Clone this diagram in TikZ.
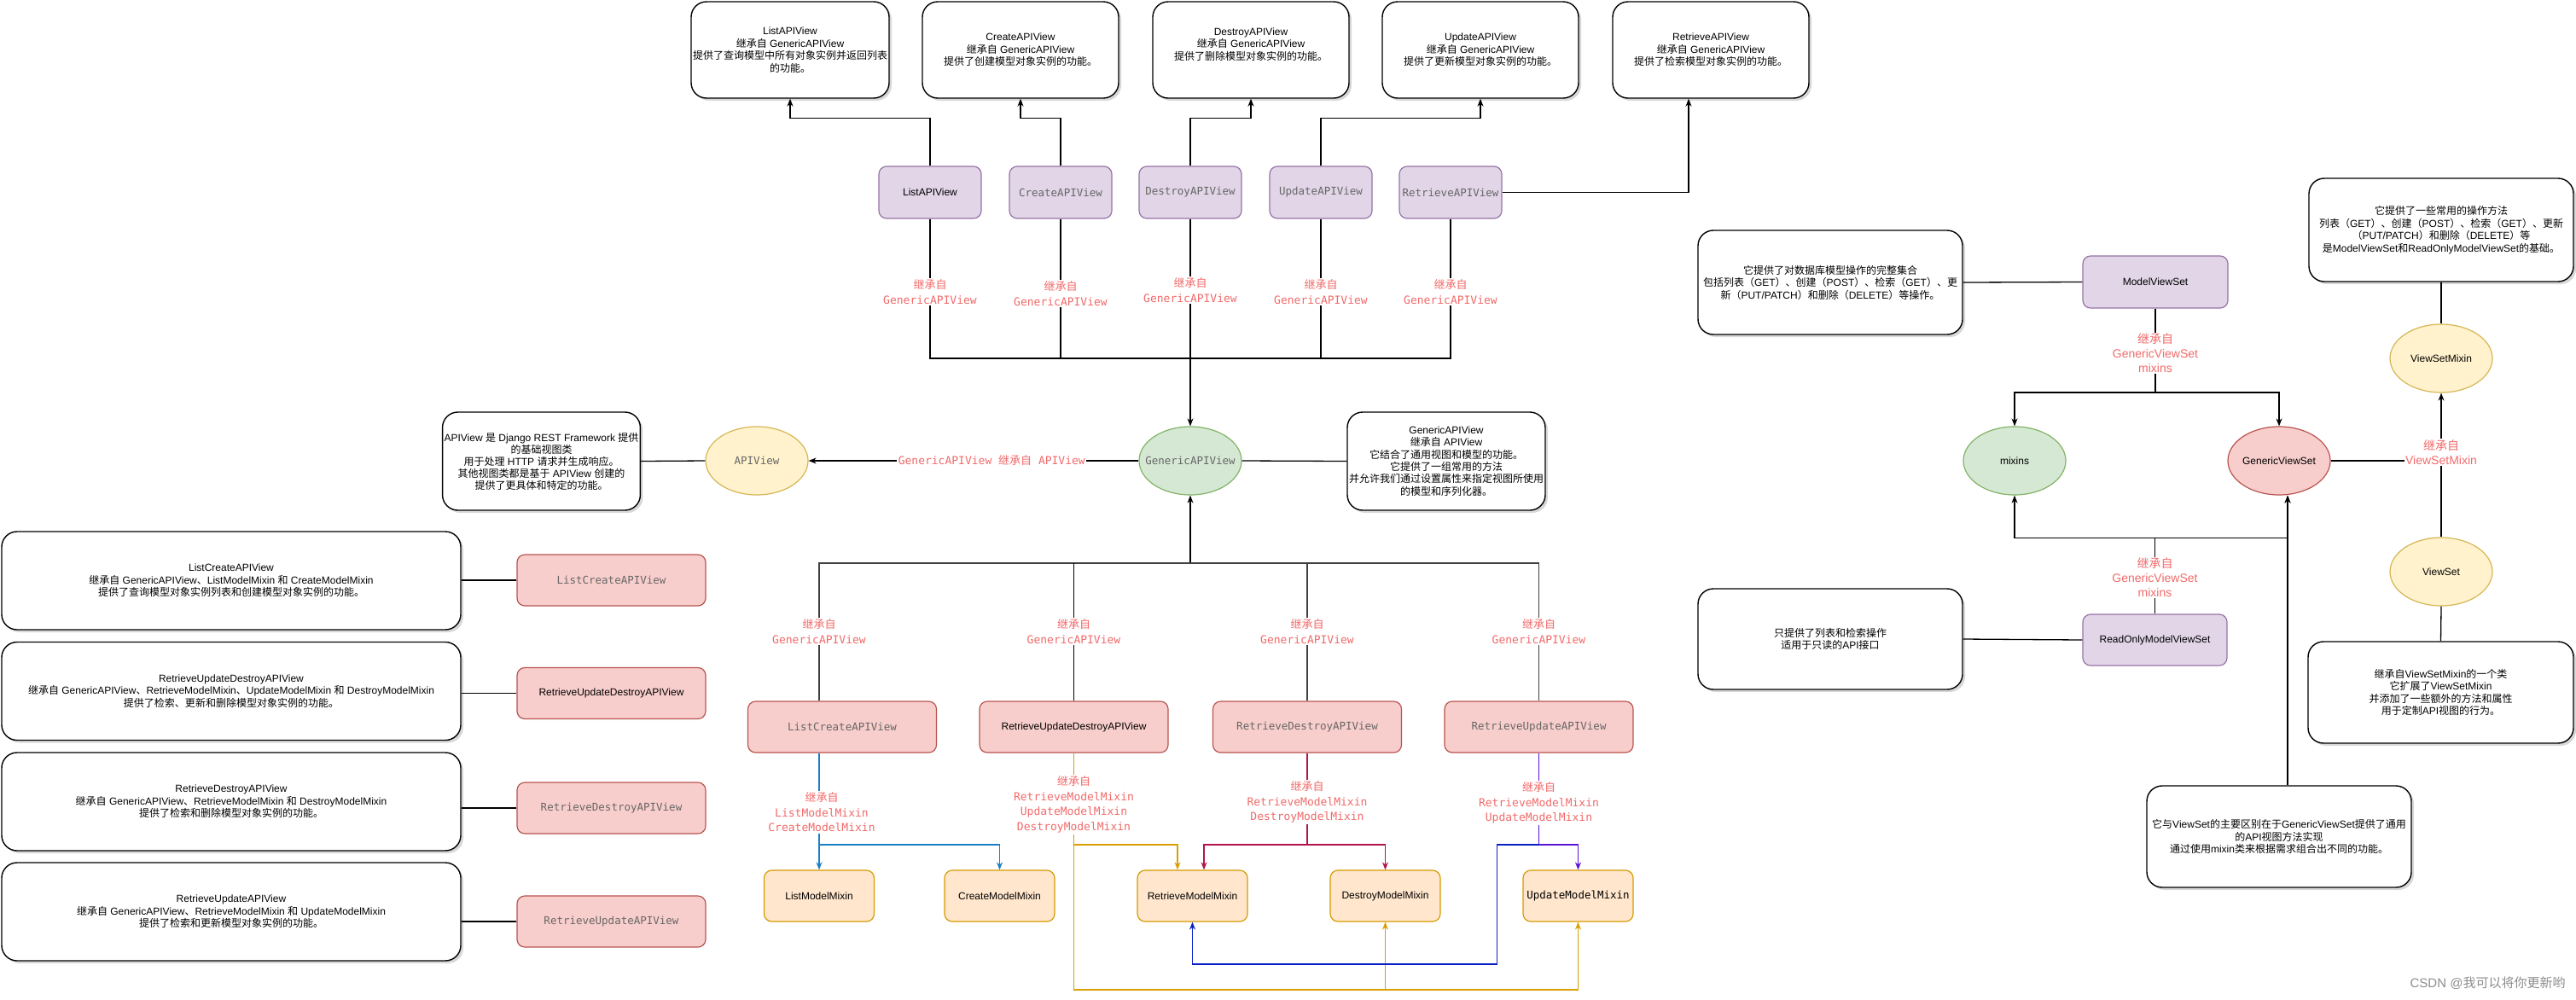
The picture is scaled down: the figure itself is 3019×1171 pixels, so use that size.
\documentclass[tikz,border=0pt]{standalone}
\usepackage{fontspec}
\setmainfont{Liberation Sans}
\setmonofont{DejaVu Sans Mono}
\newfontfamily\cjkfont{Noto Sans CJK SC}
\usetikzlibrary{arrows.meta,shadows,shapes.geometric}
% automatic CJK font switching
\newcount\cjkc
\def\setcjkrange#1#2{\cjkc=#1\relax\loop\XeTeXcharclass\cjkc=7\relax\ifnum\cjkc<#2\relax\advance\cjkc by 1\relax\repeat}
\setcjkrange{"4E00}{"9FFF}
\setcjkrange{"3000}{"303F}
\setcjkrange{"FF00}{"FFEF}
\XeTeXinterchartoks 0 7 = {\begingroup\cjkfont}
\XeTeXinterchartoks 4095 7 = {\begingroup\cjkfont}
\XeTeXinterchartoks 7 0 = {\endgroup}
\XeTeXinterchartoks 7 4095 = {\endgroup}
\XeTeXinterchartokenstate=1
\definecolor{purpF}{HTML}{E1D5E7}\definecolor{purpS}{HTML}{9673A6}
\definecolor{redF}{HTML}{F8CECC}\definecolor{redS}{HTML}{B85450}
\definecolor{grnF}{HTML}{D5E8D4}\definecolor{grnS}{HTML}{82B366}
\definecolor{ylwF}{HTML}{FFF2CC}\definecolor{ylwS}{HTML}{D6B656}
\definecolor{orgF}{HTML}{FFE6CC}\definecolor{orgS}{HTML}{D79B00}
\definecolor{lbl}{HTML}{F26A6A}
\definecolor{monoG}{HTML}{666666}
\definecolor{cBlue}{HTML}{1B7FC4}
\definecolor{cOrange}{HTML}{D9A000}
\definecolor{cCrimson}{HTML}{B3134F}
\definecolor{cPurple}{HTML}{5B14D6}
\definecolor{cNavy}{HTML}{0A1FC4}
\tikzset{
 desc/.style={draw=black, line width=1.4pt, rounded corners=18pt, fill=white, align=center, inner sep=2pt, drop shadow={shadow xshift=3pt,shadow yshift=-3pt,fill=black!30}, font=\fontsize{12pt}{14.5pt}\selectfont},
 nbox/.style={rounded corners=9pt, line width=1.2pt, align=center, inner sep=2pt, font=\fontsize{12pt}{14.5pt}\selectfont},
 purpbox/.style={nbox, draw=purpS, fill=purpF, minimum width=120pt, minimum height=61pt},
 redbox/.style={nbox, draw=redS, fill=redF, minimum width=221pt, minimum height=60pt},
 mixbox/.style={nbox, draw=orgS, fill=orgF, minimum width=129pt, minimum height=60pt},
 ell/.style={ellipse, line width=1.2pt, minimum width=120pt, minimum height=80pt, inner sep=0pt, font=\fontsize{12pt}{14.5pt}\selectfont},
 grnell/.style={ell, draw=grnS, fill=grnF},
 ylwell/.style={ell, draw=ylwS, fill=ylwF},
 redell/.style={ell, draw=redS, fill=redF},
 mono/.style={font=\fontsize{12.5pt}{14.5pt}\selectfont\ttfamily, text=monoG},
 lblm/.style={fill=white, text=lbl, font=\fontsize{13pt}{17.5pt}\selectfont\ttfamily, align=center, inner sep=1.5pt},
 lbls/.style={fill=white, text=lbl, font=\fontsize{14pt}{17pt}\selectfont, align=center, inner sep=1.5pt},
 conn/.style={line width=1.3pt},
 arr/.style={conn, -{Stealth[length=9pt,width=7pt]}},
}
\begin{document}
\begin{tikzpicture}[x=1pt,y=-1pt]
\fill[white] (0,0) rectangle (3019,1171);
\useasboundingbox (0,0) rectangle (3019,1171);

% ---------- top description boxes ----------
\node[desc, minimum width=230pt, minimum height=113pt] (tListD) at (926,58.5) {ListAPIView\\继承自 GenericAPIView\\提供了查询模型中所有对象实例并返回列表\\的功能。};
\node[desc, minimum width=230pt, minimum height=113pt] (tCreateD) at (1196,58.5) {CreateAPIView\\继承自 GenericAPIView\\提供了创建模型对象实例的功能。};
\node[desc, minimum width=230pt, minimum height=113pt] (tDestroyD) at (1466,58.5) {DestroyAPIView\\继承自 GenericAPIView\\提供了删除模型对象实例的功能。\\\mbox{}};
\node[desc, minimum width=230pt, minimum height=113pt] (tUpdateD) at (1735,58.5) {UpdateAPIView\\继承自 GenericAPIView\\提供了更新模型对象实例的功能。};
\node[desc, minimum width=230pt, minimum height=113pt] (tRetrD) at (2005,58.5) {RetrieveAPIView\\继承自 GenericAPIView\\提供了检索模型对象实例的功能。};

% ---------- purple API views ----------
\node[purpbox] (pList) at (1090,225.5) {ListAPIView};
\node[purpbox, mono] (pCreate) at (1243,225.5) {CreateAPIView};
\node[purpbox, mono] (pDestroy) at (1395,225.5) {DestroyAPIView};
\node[purpbox, mono] (pUpdate) at (1548,225.5) {UpdateAPIView};
\node[purpbox, mono] (pRetr) at (1700,225.5) {RetrieveAPIView};

\draw[arr] (pList.north) -- ++(0,-56) -| (tListD.south);
\draw[arr] (pCreate.north) -- ++(0,-56) -| (tCreateD.south);
\draw[arr] (pDestroy.north) -- ++(0,-56) -| (tDestroyD.south);
\draw[arr] (pUpdate.north) -- ++(0,-56) -| (tUpdateD.south);
\draw[arr] (pRetr.east) -| ([xshift=-26pt]tRetrD.south);

% ---------- GenericAPIView / APIView ----------
\node[grnell, mono] (gav) at (1395,540) {\makebox[0pt]{GenericAPIView}};
\node[ylwell, mono] (apiv) at (887,540) {\makebox[0pt]{APIView}};
\node[desc, minimum width=231pt, minimum height=115pt, font=\fontsize{12pt}{14pt}\selectfont] (apiD) at (634.5,540.5) {APIView 是 Django REST Framework 提供\\的基础视图类\\用于处理 HTTP 请求并生成响应。\\其他视图类都是基于 APIView 创建的\\提供了更具体和特定的功能。};
\node[desc, minimum width=230pt, minimum height=115pt, font=\fontsize{12pt}{14.4pt}\selectfont] (gavD) at (1695,540.5) {GenericAPIView\\继承自 APIView\\它结合了通用视图和模型的功能。\\它提供了一组常用的方法\\并允许我们通过设置属性来指定视图所使用\\的模型和序列化器。};

\coordinate (topbar) at (1395,420);
\draw[conn] (pList.south) |- (topbar) -| (pRetr.south);
\draw[conn] (pCreate.south) -- (pCreate.south |- topbar);
\draw[conn] (pUpdate.south) -- (pUpdate.south |- topbar);
\draw[conn] (pDestroy.south) -- (topbar);
\draw[arr] (topbar) -- (gav.north);
\node[lblm] (l1) at (1090,342) {继承自\\GenericAPIView};
\node[lblm] (l2) at (1243,344) {继承自\\GenericAPIView};
\node[lblm] (l3) at (1395,340) {继承自\\GenericAPIView};
\node[lblm] (l4) at (1548,342) {继承自\\GenericAPIView};
\node[lblm] (l5) at (1700,342) {继承自\\GenericAPIView};

\draw[conn] (apiD.east) -- (apiv.west);
\draw[arr] (gav.west) -- node[lblm, pos=0.445] (l6) {GenericAPIView 继承自 APIView} (apiv.east);
\draw[conn] (gav.east) -- (gavD.west);

% ---------- middle red views ----------
\node[redbox, mono] (rLC) at (987,852) {ListCreateAPIView};
\node[redbox] (rRUD) at (1258.5,852) {RetrieveUpdateDestroyAPIView};
\node[redbox, mono] (rRD) at (1532,852) {RetrieveDestroyAPIView};
\node[redbox, mono] (rRU) at (1803.5,852) {RetrieveUpdateAPIView};

\coordinate (lowbar) at (1395,660);
\draw[arr] (lowbar) -- (gav.south);
\draw[conn, black!75] ([xshift=-27pt]rLC.north) |- (rRU.north |- lowbar) -- (rRU.north);
\draw[conn] (rRUD.north) -- (rRUD.north |- lowbar);
\draw[conn, black!75] (rRD.north) -- (rRD.north |- lowbar);
\node[lblm] (l7) at (960,740) {继承自\\GenericAPIView};
\node[lblm] (l8) at (1258.5,740) {继承自\\GenericAPIView};
\node[lblm] (l9) at (1532,740) {继承自\\GenericAPIView};
\node[lblm] (l10) at (1803.5,740) {继承自\\GenericAPIView};

% ---------- mixins ----------
\node[mixbox] (mList) at (960,1050) {ListModelMixin};
\node[mixbox] (mCreate) at (1171.5,1050) {CreateModelMixin};
\node[mixbox] (mRetr) at (1397.5,1050) {RetrieveModelMixin};
\node[mixbox] (mDestroy) at (1623.5,1050) {DestroyModelMixin};
\node[mixbox, font=\fontsize{12.5pt}{14.5pt}\selectfont\ttfamily] (mUpdate) at (1849.5,1050) {UpdateModelMixin};

% blue (ListCreate)
\coordinate (bj) at (960,990);
\draw[arr, cBlue] ([xshift=-27pt]rLC.south) -- (mList.north);
\draw[arr, cBlue] (bj) -| (mCreate.north);
% orange (RetrieveUpdateDestroy)
\coordinate (oj) at (1258.5,990);
\coordinate (ob) at (1258.5,1160);
\draw[arr, cOrange] (rRUD.south) |- (ob -| mUpdate.south) -- (mUpdate.south);
\draw[arr, cOrange] (mDestroy.south |- ob) -- (mDestroy.south);
\draw[arr, cOrange] (oj) -| ([xshift=-17.5pt]mRetr.north);
% crimson (RetrieveDestroy)
\coordinate (cj) at (1532,990);
\draw[conn, cCrimson] (rRD.south) -- (cj);
\draw[arr, cCrimson] (cj) -| ([xshift=13.5pt]mRetr.north);
\draw[arr, cCrimson] (cj) -| (mDestroy.north);
% purple / navy (RetrieveUpdate)
\coordinate (uj) at (1803.5,990);
\draw[arr, cPurple] (rRU.south) -- (uj) -| (mUpdate.north);
\draw[arr, cNavy] (uj) -- ++(-49,0) -- ++(0,140) -| (mRetr.south);

\node[lblm] (l11) at (963,952) {继承自\\ListModelMixin\\CreateModelMixin};
\node[lblm] (l12) at (1258.5,943) {继承自\\RetrieveModelMixin\\UpdateModelMixin\\DestroyModelMixin};
\node[lblm] (l13) at (1532,940) {继承自\\RetrieveModelMixin\\DestroyModelMixin};
\node[lblm] (l14) at (1803.5,941) {继承自\\RetrieveModelMixin\\UpdateModelMixin};

% ---------- left column ----------
\node[desc, minimum width=538pt, minimum height=115pt] (dLC) at (271,680.5) {ListCreateAPIView\\继承自 GenericAPIView、ListModelMixin 和 CreateModelMixin\\提供了查询模型对象实例列表和创建模型对象实例的功能。};
\node[desc, minimum width=538pt, minimum height=115pt] (dRUD) at (271,810) {RetrieveUpdateDestroyAPIView\\继承自 GenericAPIView、RetrieveModelMixin、UpdateModelMixin 和 DestroyModelMixin\\提供了检索、更新和删除模型对象实例的功能。};
\node[desc, minimum width=538pt, minimum height=115pt] (dRD) at (271,939.5) {RetrieveDestroyAPIView\\继承自 GenericAPIView、RetrieveModelMixin 和 DestroyModelMixin\\提供了检索和删除模型对象实例的功能。};
\node[desc, minimum width=538pt, minimum height=115pt] (dRU) at (271,1068.5) {RetrieveUpdateAPIView\\继承自 GenericAPIView、RetrieveModelMixin 和 UpdateModelMixin\\提供了检索和更新模型对象实例的功能。};
\node[redbox, mono] (lLC) at (716.5,680) {ListCreateAPIView};
\node[redbox] (lRUD) at (716.5,812.5) {RetrieveUpdateDestroyAPIView};
\node[redbox, mono] (lRD) at (716.5,947) {RetrieveDestroyAPIView};
\node[redbox, mono] (lRU) at (716.5,1080) {RetrieveUpdateAPIView};
\draw[conn] (lLC.west) -- (lLC.west -| dLC.east);
\draw[conn] (lRUD.west) -- (lRUD.west -| dRUD.east);
\draw[conn] (lRD.west) -- (lRD.west -| dRD.east);
\draw[conn] (lRU.west) -- (lRU.west -| dRU.east);

% ---------- right side: viewsets ----------
\node[desc, minimum width=310pt, minimum height=122pt] (mvsD) at (2145,331) {它提供了对数据库模型操作的完整集合\\包括列表（GET）、创建（POST）、检索（GET）、更\\新（PUT/PATCH）和删除（DELETE）等操作。};
\node[purpbox, minimum width=170pt] (mvs) at (2526,330.5) {ModelViewSet};
\draw[conn] (mvsD.east) -- (mvs.west);
\node[grnell] (mixE) at (2361,540) {\makebox[0pt]{mixins}};
\node[redell] (gvsE) at (2671,540) {\makebox[0pt]{GenericViewSet}};
\coordinate (mbar) at (2526,460);
\draw[conn] (mvs.south) -- (mbar);
\draw[arr] (mbar) -| (mixE.north);
\draw[arr] (mbar) -| (gvsE.north);
\node[lbls] (l15) at (2526,414) {继承自\\GenericViewSet\\mixins};

\node[ylwell] (vsm) at (2861,420) {\makebox[0pt]{ViewSetMixin}};
\node[ylwell] (vs) at (2861,670) {\makebox[0pt]{ViewSet}};
\node[desc, minimum width=310pt, minimum height=121pt] (vsmD) at (2861,269.5) {它提供了一些常用的操作方法\\列表（GET）、创建（POST）、检索（GET）、更新\\（PUT/PATCH）和删除（DELETE）等\\是ModelViewSet和ReadOnlyModelViewSet的基础。};
\node[desc, minimum width=311pt, minimum height=119pt] (vsD) at (2860.5,811.5) {继承自ViewSetMixin的一个类\\它扩展了ViewSetMixin\\并添加了一些额外的方法和属性\\用于定制API视图的行为。};
\node[desc, minimum width=310pt, minimum height=119pt] (gvsD) at (2671,980.5) {它与ViewSet的主要区别在于GenericViewSet提供了通用\\的API视图方法实现\\通过使用mixin类来根据需求组合出不同的功能。};
\draw[conn] (vsmD.south) -- (vsm.north);
\draw[arr] (gvsE.east) -| (vsm.south);
\draw[conn] (vs.north) -- (vs.north |- gvsE.east);
\draw[conn] (vs.south) -- (vsD.north);
\node[lbls] (l16) at (2861,530) {继承自\\ViewSetMixin};

\node[desc, minimum width=310pt, minimum height=118pt] (roD) at (2145,749) {只提供了列表和检索操作\\适用于只读的API接口};
\node[purpbox, minimum width=169pt, minimum height=60pt] (ro) at (2525.5,750) {ReadOnlyModelViewSet};
\draw[conn] (roD.east) -- (ro.west);
\draw[conn] (ro.north) -- ++(0,-89) coordinate (rbar);
\draw[arr] (rbar) -| (mixE.south);
\draw[arr] (rbar) -| ([xshift=10pt]gvsE.south);
\draw[arr] ([xshift=10pt]gvsD.north) -- ([xshift=10pt]gvsE.south);
\node[lbls] (l17) at (2525.5,677) {继承自\\GenericViewSet\\mixins};

% watermark
\node[text=black!45, font=\fontsize{15pt}{18pt}\selectfont, anchor=east] (wm) at (3010,1152) {CSDN @我可以将你更新哟};
\end{tikzpicture}
\end{document}
